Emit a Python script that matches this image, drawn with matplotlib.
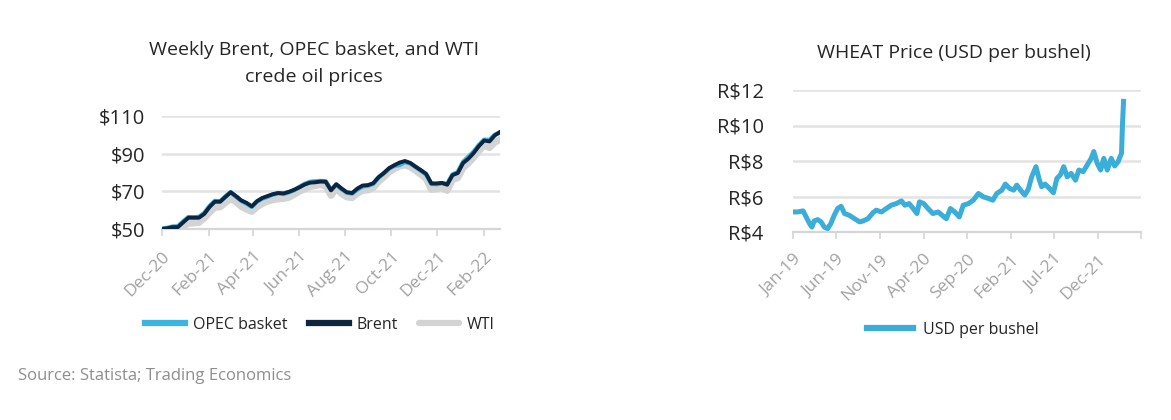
import matplotlib
matplotlib.use("Agg")
import matplotlib.pyplot as plt
import pandas as pd

plt.rcParams['font.family'] = ['Open Sans', 'DejaVu Sans']

# ---------------- Data: oil (weekly) ----------------
oil_start = "2020-12-01"
brent = [50.0, 50.4, 51.0, 51.0, 53.5, 56.0, 56.0, 56.0, 58.0, 61.7,
         64.5, 64.5, 67.0, 69.5, 67.5, 65.2, 63.9, 62.0, 64.8, 66.5,
         67.5, 68.5, 69.1, 68.9, 69.7, 70.8, 72.1, 73.6, 74.6, 74.8,
         75.2, 75.1, 70.5, 73.8, 71.5, 69.5, 69.1, 71.5, 73.1, 73.3,
         74.3, 77.5, 79.7, 82.3, 83.9, 85.3, 86.1, 85.1, 83.1, 81.3,
         79.3, 74.2, 74.2, 74.5, 73.5, 78.6, 79.7, 85.0, 87.3, 90.3,
         94.0, 97.0, 96.5, 99.7, 101.5]
opec = [50.2, 50.6, 51.3, 51.4, 54.0, 56.3, 56.2, 56.4, 58.5, 62.2,
        64.9, 64.6, 67.3, 69.6, 67.2, 65.0, 63.5, 61.8, 64.6, 66.2,
        67.2, 68.3, 69.0, 68.6, 69.5, 70.6, 72.3, 73.9, 75.0, 75.3,
        75.5, 75.3, 70.8, 73.5, 71.2, 69.3, 68.8, 71.0, 72.6, 73.0,
        74.0, 77.3, 79.6, 82.1, 83.6, 84.0, 85.6, 84.8, 83.0, 81.0,
        79.0, 74.0, 73.8, 74.3, 74.0, 78.9, 80.2, 85.6, 88.3, 91.0,
        94.6, 97.4, 97.2, 100.0, 101.2]
wti = [47.6, 48.0, 48.5, 48.8, 51.5, 53.0, 53.2, 53.5, 55.8, 58.8,
       61.5, 61.7, 64.0, 66.1, 64.5, 62.0, 60.5, 59.3, 61.8, 63.5,
       64.8, 65.5, 66.0, 66.2, 66.8, 68.3, 70.0, 71.2, 72.5, 73.0,
       73.6, 72.9, 67.8, 71.6, 68.8, 67.0, 66.6, 69.0, 70.5, 70.7,
       71.9, 75.2, 77.6, 80.2, 82.0, 83.4, 84.0, 83.0, 81.1, 79.0,
       76.8, 71.0, 71.4, 71.8, 70.5, 76.2, 77.2, 82.5, 85.0, 88.0,
       91.5, 94.5, 93.2, 96.0, 97.5]
oil_ticks = ["2020-12-01", "2021-02-01", "2021-04-01", "2021-06-01", "2021-08-01",
             "2021-10-01", "2021-12-01", "2022-02-01"]
oil_yticks = [50, 70, 90, 110]

# ---------------- Data: wheat ----------------
wheat_dates = ["2019-01-01", "2019-01-18", "2019-02-05", "2019-02-16", "2019-02-28",
               "2019-03-08", "2019-03-16", "2019-03-28", "2019-04-09", "2019-04-20",
               "2019-05-02", "2019-05-13", "2019-05-25", "2019-06-06", "2019-06-18",
               "2019-06-30", "2019-07-17", "2019-08-04", "2019-08-22", "2019-09-03",
               "2019-09-20", "2019-10-07", "2019-10-19", "2019-11-06", "2019-11-23",
               "2019-12-10", "2019-12-28", "2020-01-15", "2020-01-27", "2020-02-11",
               "2020-02-25", "2020-03-09", "2020-03-18", "2020-04-02", "2020-04-17",
               "2020-05-04", "2020-05-22", "2020-06-09", "2020-06-20", "2020-07-04",
               "2020-07-19", "2020-08-04", "2020-08-18", "2020-09-05", "2020-09-22",
               "2020-10-10", "2020-10-27", "2020-11-14", "2020-11-29", "2020-12-13",
               "2020-12-31", "2021-01-12", "2021-01-27", "2021-02-10", "2021-02-21",
               "2021-03-06", "2021-03-21", "2021-04-02", "2021-04-14", "2021-04-29",
               "2021-05-11", "2021-05-19", "2021-05-31", "2021-06-15", "2021-06-29",
               "2021-07-11", "2021-07-23", "2021-08-04", "2021-08-16", "2021-08-30",
               "2021-09-14", "2021-09-26", "2021-10-11", "2021-10-25", "2021-11-08",
               "2021-11-17", "2021-11-29", "2021-12-11", "2021-12-22", "2022-01-03",
               "2022-01-17", "2022-01-29", "2022-02-10", "2022-02-17", "2022-02-22",
               "2022-02-25", "2022-03-01"]
wheat = [5.13, 5.13, 5.19, 4.85, 4.47, 4.28, 4.62, 4.70, 4.57, 4.28,
         4.19, 4.47, 4.94, 5.32, 5.45, 5.04, 4.94, 4.75, 4.57, 4.62,
         4.75, 5.08, 5.23, 5.13, 5.32, 5.51, 5.60, 5.75, 5.51, 5.60,
         5.32, 5.04, 5.70, 5.60, 5.32, 5.04, 5.13, 4.89, 4.75, 5.32,
         5.13, 4.85, 5.51, 5.60, 5.79, 6.17, 5.98, 5.89, 5.79, 6.17,
         6.36, 6.70, 6.45, 6.36, 6.64, 6.36, 6.08, 6.40, 7.11, 7.68,
         6.92, 6.55, 6.70, 6.45, 6.21, 7.02, 7.21, 7.68, 7.11, 7.30,
         6.92, 7.49, 7.40, 7.77, 8.15, 8.53, 7.87, 7.49, 8.15, 7.49,
         8.15, 7.72, 7.96, 8.25, 8.43, 9.94, 11.36]
wheat_ticks = ["2019-01-01", "2019-06-01", "2019-11-01", "2020-04-01", "2020-09-01",
               "2021-02-01", "2021-07-01", "2021-12-01", "2022-05-01"]
wheat_tick_labels = ["Jan-19", "Jun-19", "Nov-19", "Apr-20", "Sep-20",
                     "Feb-21", "Jul-21", "Dec-21", ""]
wheat_yticks = [4, 6, 8, 10, 12]

# colors
C_OPEC = "#3db4e2"
C_BRENT = "#0c2540"
C_WTI = "#d3d3d3"
C_WHEAT = "#3aaed8"
C_GRID = "#e3e3e3"
C_XLAB = "#a2a2a2"
C_TEXT = "#262626"

fig = plt.figure(figsize=(11.71, 4.20), dpi=100)
fig.patch.set_facecolor("white")

def style_axes(ax, ypad):
    for s in ["top", "right", "left"]:
        ax.spines[s].set_visible(False)
    ax.spines["bottom"].set_color("#d6d6d6")
    ax.spines["bottom"].set_linewidth(1.6)
    ax.grid(axis="y", color=C_GRID, linewidth=1.8)
    ax.set_axisbelow(True)
    ax.tick_params(axis="y", length=0, labelsize=14.5, labelcolor=C_TEXT, pad=ypad)
    ax.tick_params(axis="x", length=5, width=1.2, color="#d6d6d6",
                   labelsize=12.5, labelcolor=C_XLAB, pad=9)

# ---------------- Left chart ----------------
ax1 = fig.add_axes([162/1171, 1-229/420, (500-162)/1171, (229-116)/420])
oil_dates = pd.date_range(oil_start, periods=len(brent), freq="7D")
ax1.plot(oil_dates, wti, color=C_WTI, lw=5, solid_capstyle="round", label="WTI", zorder=3)
ax1.plot(oil_dates, opec, color=C_OPEC, lw=3.2, label="OPEC basket", zorder=4)
ax1.plot(oil_dates, brent, color=C_BRENT, lw=2.8, label="Brent", zorder=5)
ax1.set_xlim(oil_dates[0], oil_dates[-1])
ax1.set_ylim(50, 110)
ax1.set_yticks(oil_yticks)
ax1.set_yticklabels([f"${v}" for v in oil_yticks])
ax1.set_xticks(pd.to_datetime(oil_ticks))
ax1.set_xticklabels([pd.Timestamp(d).strftime("%b-%y") for d in oil_ticks],
                    rotation=45, ha="right", rotation_mode="anchor")
style_axes(ax1, 12)

h, l = ax1.get_legend_handles_labels()
order = [1, 2, 0]
leg1 = fig.legend([h[i] for i in order], [l[i] for i in order],
                  loc="center", bbox_to_anchor=(320/1171, 1-325/420), ncol=3,
                  frameon=False, fontsize=11.5, handlelength=2.5,
                  handletextpad=0.5, columnspacing=1.3)
for t in leg1.get_texts():
    t.set_color(C_TEXT)
for ln in leg1.get_lines():
    ln.set_linewidth(4.5)

fig.text(314/1171, 1-50/420, "Weekly Brent, OPEC basket, and WTI", ha="center",
         va="center", fontsize=14, color=C_TEXT)
fig.text(314/1171, 1-77/420, "crede oil prices", ha="center",
         va="center", fontsize=14, color=C_TEXT)

# ---------------- Right chart ----------------
ax2 = fig.add_axes([793/1171, 1-232/420, (1141-793)/1171, (232-90)/420])
wd = pd.to_datetime(wheat_dates)
ax2.plot(wd, wheat, color=C_WHEAT, lw=3.6, label="USD per bushel", zorder=4)
ax2.set_xlim(pd.Timestamp(wheat_ticks[0]), pd.Timestamp(wheat_ticks[-1]))
ax2.set_ylim(4, 12)
ax2.set_yticks(wheat_yticks)
ax2.set_yticklabels([f"R${v}" for v in wheat_yticks])
ax2.set_xticks(pd.to_datetime(wheat_ticks))
ax2.set_xticklabels(wheat_tick_labels, rotation=45, ha="right", rotation_mode="anchor")
style_axes(ax2, 21)

leg2 = fig.legend(loc="center", handles=ax2.get_lines(),
                  bbox_to_anchor=(953/1171, 1-330/420), frameon=False,
                  fontsize=11.5, handlelength=2.9, handletextpad=0.6)
for t in leg2.get_texts():
    t.set_color(C_TEXT)
for ln in leg2.get_lines():
    ln.set_linewidth(4.5)

fig.text(954/1171, 1-53/420, "WHEAT Price (USD per bushel)", ha="center",
         va="center", fontsize=14, color=C_TEXT)

fig.text(18/1171, 1-376/420, "Source: Statista; Trading Economics", ha="left",
         va="center", fontsize=12, color="#8e8e8e")

fig.savefig("out.png", dpi=100, facecolor="white")
